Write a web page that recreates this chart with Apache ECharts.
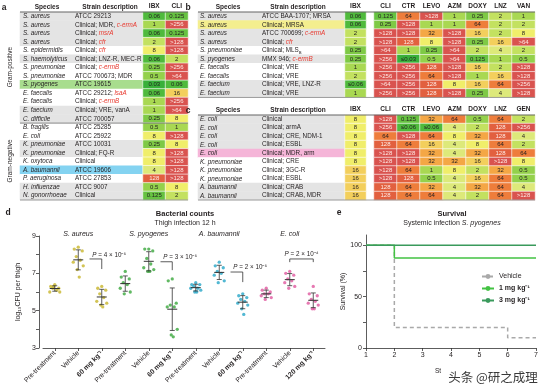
<!DOCTYPE html>
<html>
<head>
<meta charset="utf-8">
<script src="https://cdn.jsdelivr.net/npm/echarts@6.0.0/dist/echarts.min.js"></script>
<style>
html,body{margin:0;padding:0;background:#ffffff;}
#chart{width:554px;height:391px;}
</style>
</head>
<body>
<div id="chart"></div>
<script>
// ================= DATA =================
// ---- Panel a ----
const speciesA = ['S. aureus','S. aureus','S. aureus','S. aureus','S. epidermidis','S. haemolyticus','S. pneumoniae','S. pneumoniae','S. pyogenes','E. faecalis','E. faecalis','E. faecium','C. difficile','B. fragilis','E. coli','K. pneumoniae','K. pneumoniae','K. oxytoca','A. baumannii','P. aeruginosa','H. influenzae','N. gonorrhoeae'];
const strainA = ['ATCC 29213','Clinical; MDR, ','Clinical; ','Clinical; ','Clinical; ','Clinical; LNZ-R, MEC-R','Clinical; ','ATCC 700673; MDR','ATCC 19615','ATCC 29212; ','Clinical; ','Clinical; VRE, vanA','ATCC 700057','ATCC 25285','ATCC 25922','ATCC 10031','Clinical; FQ-R','Clinical','ATCC 19606','ATCC 27853','ATCC 9007','Clinical'];
const geneA = ['','c-ermA','msrA','cfr','cfr','','c-ermB','','','lsaA','c-ermB','','','','','','','','','','',''];
const rowBgA = ['g','g','g','g','w','g','w','w','G','w','w','g','g','w','w','g','g','w','B','w','g','g'];
const ibxA = ['0.06','1','0.06','2','8','0.06','0.25','0.5','0.03','0.06','1','1','0.25','0.5','8','0.25','8','8','4','128','0.5','0.125'];
const cliA = ['0.125','>256','0.125','>128','>128','2','>256','>64','0.06','16','>256','>64','8','1','>128','8','>128','>128','>128','>128','8','2'];

// ---- Panel b ----
const speciesB = ['S. aureus','S. aureus','S. aureus','S. aureus','S. pneumoniae','S. pyogenes','E. faecalis','E. faecalis','E. faecium','E. faecium'];
const strainB = ['ATCC BAA-1707; MRSA','Clinical; MRSA','ATCC 700699; ','Clinical; ','Clinical; MLS','MMX 946; ','Clinical; VRE','Clinical; VRE','Clinical; VRE, LNZ-R','Clinical; VRE'];
const subB = ['','','','','B','','','','',''];
const geneB = ['','','c-ermA','cfr','','c-ermB','','','',''];
const rowBgB = ['g','Y','g','g','w','g','w','w','g','g'];
const ibxB = ['0.06','0.06','2','2','0.25','0.25','1','2','≤0.06','1'];
const cliB = ['0.125','0.25','>128','>128','>64','>256','>256','>256','>64','>256'];
const ctrB = ['64','>128','>128','128','1','≤0.03','>256','>256','>256','>256'];
const levoB = ['>128','1','32','8','0.25','0.5','128','64','128','128'];
const azmB = ['1','1','>128','>128','>64','>64','>128','>128','8','>128'];
const doxyB = ['0.25','64','16','0.25','2','0.125','16','1','16','0.25'];
const lnzB = ['2','2','2','16','4','1','2','16','64','4'];
const vanB = ['1','2','8','>64','2','0.5','>128','>128','>256','>128'];

// ---- Panel c ----
const speciesC = ['E. coli','E. coli','E. coli','E. coli','E. coli','K. pneumoniae','K. pneumoniae','K. pneumoniae','A. baumannii','A. baumannii'];
const strainC = ['Clinical','Clinical; armA','Clinical; CRE, NDM-1','Clinical; ESBL','Clinical; MDR, arm','Clinical; CRE','Clinical; 3GC-R','Clinical; ESBL','Clinical; CRAB','Clinical; CRAB, MDR'];
const geneC = ['','','','','','','','','',''];
const rowBgC = ['g','g','g','g','P','w','w','w','g','g'];
const ibxC = ['8','8','8','8','8','8','16','16','16','16'];
const cliC = ['>128','>256','64','128','>128','>128','>128','>128','128','128'];
const ctrC = ['0.125','≤0.06','>128','64','>128','>128','64','128','64','64'];
const levoC = ['32','≤0.06','64','16','32','32','1','0.5','32','64'];
const azmC = ['64','4','8','4','4','32','8','4','4','4'];
const doxyC = ['0.5','2','32','8','32','16','2','16','32','2'];
const lnzC = ['64','128','128','64','128','>128','32','64','64','64'];
const genC = ['2','>256','4','2','64','8','0.5','0.5','4','>128'];

// ---- Panel d ----
const groupLabelsD = ['Pre-treatment','Vehicle','60 mg kg⁻¹','Pre-treatment','Vehicle','60 mg kg⁻¹','Pre-treatment','Vehicle','60 mg kg⁻¹','Pre-treatment','Vehicle','120 mg kg⁻¹'];
const speciesD = ['S. aureus','S. pyogenes','A. baumannii','E. coli'];
const saPre = [6.4, 6.3, 6.2, 6.2, 6.1, 6.0, 6.0, 6.3];
const saVeh = [8.4, 8.3, 8.2, 7.9, 7.7, 7.6, 7.4, 7.2, 6.8];
const sa60  = [6.3, 6.2, 6.1, 5.9, 5.7, 5.5, 5.4, 5.3, 5.2];
const spPre = [7.1, 6.8, 6.7, 6.5, 6.4, 6.2, 6.0, 5.9];
const spVeh = [8.3, 8.3, 8.2, 7.8, 7.5, 7.3, 7.2, 7.1, 7.1];
const sp60  = [6.7, 6.6, 5.4, 5.3, 5.2, 5.2, 4.0, 3.7, 3.6];
const abPre = [6.5, 6.4, 6.4, 6.3, 6.2, 6.2, 6.1, 6.0, 6.0];
const abVeh = [7.6, 7.4, 7.3, 7.1, 7.0, 6.9, 6.6, 6.5];
const ab60  = [5.9, 5.8, 5.7, 5.6, 5.5, 5.4, 5.3, 5.1, 4.8];
const ecPre = [6.2, 6.1, 6.0, 5.9, 5.9, 5.8, 5.7, 5.6];
const ecVeh = [7.1, 7.0, 6.9, 6.7, 6.6, 6.5, 6.3, 6.2];
const ec120 = [6.3, 5.9, 5.8, 5.6, 5.5, 5.4, 5.3, 5.1, 5.1];
const pValues = ['4 × 10⁻⁶','3 × 10⁻⁶','2 × 10⁻⁶','2 × 10⁻⁴'];
const yTicksD = [3,4,5,6,7,8,9];
const yLabelsD = [3,5,7,9];

// ---- Panel e ----
const daysVehicle = [1, 2, 6, 7];
const survVehicle = [100, 20, 10, 10];
const days1mg = [1, 2, 7];
const surv1mg = [100, 87.5, 87.5];
const days3mg = [1, 7];
const surv3mg = [100, 100];
const yTicksE = [0,25,50,75,100];
const yLabelsE = [0,50,100];
const xTicksE = [1,2,3,4,5,6,7];

// ================= STYLE / BUILD =================
const FONT = '"Liberation Sans", Arial, Helvetica, sans-serif';
const TXT = '#231f20';
const ROW_BG = {g:'#e4e4e4', w:'#ffffff', G:'#a8dd8e', Y:'#f4ee8e', B:'#84d3f1', P:'#f5b5d8'};
const HEAT = ['#38b03a','#4fba3c','#66c241','#7ec945','#94d14b','#a9d852','#c3e160','#dde97a','#f0ee6a','#f3cf5c','#f4a745','#ee7d3b','#e2603f','#d9534f'];
const MIC_STEPS = ['0.03','0.06','0.125','0.25','0.5','1','2','4','8','16','32','64','128'];
function micLevel(s){ if (s.charAt(0) === '>') return 13; return MIC_STEPS.indexOf(s.replace('≤','')); }

const grid = [], xAxis = [], yAxis = [], series = [], heatSeries = [], graphics = [];

function T(x, y, text, style, rot){
  graphics.push({type:'text', x:x, y:y, z:100, rotation: rot || 0, silent:true,
    style: Object.assign({text:text, fontSize:6.8, fontFamily:FONT, fill:TXT, align:'center', verticalAlign:'middle'}, style || {})});
}
function L(x1, y1, x2, y2, w, col){
  graphics.push({type:'line', z:100, silent:true, shape:{x1:x1,y1:y1,x2:x2,y2:y2}, style:{stroke: col || '#555', lineWidth: w || 0.7}});
}

function table(t){
  const n = t.species.length;
  const rows = t.species.map((_, i) => String(i));
  let gi = grid.length;
  grid.push({left:t.bgLeft, top:t.top, width:t.bgWidth, height:t.rowH*n, outerBoundsMode:'none'});
  xAxis.push({gridIndex:gi, type:'category', data:['row'], show:false});
  yAxis.push({gridIndex:gi, type:'category', data:rows, inverse:true, z:10,
    axisLine:{show:false}, axisTick:{show:false}, splitLine:{show:false},
    axisLabel:{show:true, inside:true, align:'left', margin:t.margin, interval:0, fontSize:6.3, fontFamily:FONT, color:TXT,
      formatter: function(v){
        const i = +v;
        let s = '{sp|' + t.species[i] + '}{st|' + t.strain[i] + '}';
        if (t.sub && t.sub[i]) s += '{sb|' + t.sub[i] + '}';
        if (t.gene[i]) s += '{rd|' + t.gene[i] + '}';
        return s;
      },
      rich:{
        sp:{fontStyle:'italic', width:t.spW, fontSize:6.3, fontFamily:FONT, color:TXT, lineHeight:8},
        st:{fontSize:6.3, fontFamily:FONT, color:TXT, lineHeight:8},
        rd:{fontSize:6.3, fontFamily:FONT, color:'#e8392f', fontStyle:'italic', lineHeight:8},
        sb:{fontSize:4.3, fontFamily:FONT, color:TXT, verticalAlign:'bottom', lineHeight:8}
      }}});
  series.push({type:'heatmap', xAxisIndex:gi, yAxisIndex:gi, silent:true, z:1,
    data: t.bg.map((c, r) => ({value:[0, r, 0], itemStyle:{color: ROW_BG[c]}}))});
  t.blocks.forEach(b => {
    gi = grid.length;
    grid.push({left:b.left, top:t.top, width:b.width, height:t.rowH*n, outerBoundsMode:'none'});
    xAxis.push({gridIndex:gi, type:'category', position:'top', data:b.cols.map(c => c.name),
      axisLine:{show:false}, axisTick:{show:false}, splitLine:{show:false},
      axisLabel:{interval:0, margin:2.5, fontSize:6.5, fontWeight:'bold', fontFamily:FONT, color:TXT}});
    yAxis.push({gridIndex:gi, type:'category', data:rows, inverse:true, show:false});
    const data = [];
    b.cols.forEach((c, ci) => c.vals.forEach((s, r) => {
      const lv = micLevel(s);
      data.push({name:s, value:[ci, r, lv], label:{color: lv >= 12 ? '#fde9e4' : TXT}});
    }));
    heatSeries.push(series.length);
    series.push({type:'heatmap', xAxisIndex:gi, yAxisIndex:gi, silent:true, z:2, data:data,
      itemStyle:{borderColor:'#ffffff', borderWidth:0.6},
      label:{show:true, formatter:'{b}', fontSize:6, fontFamily:FONT}});
  });
  const right = t.blocks[t.blocks.length-1].left + t.blocks[t.blocks.length-1].width;
  L(t.bgLeft, t.top, right, t.top, 0.8, '#444');
  L(t.bgLeft, t.top + t.rowH*n, right, t.top + t.rowH*n, 0.8, '#888');
  if (t.sep) L(t.bgLeft, t.top + t.rowH*t.sep, right, t.top + t.rowH*t.sep, 0.8, '#666');
}

// Panel a
table({bgLeft:20, bgWidth:123, top:12, rowH:8.545, margin:3, spW:52, sep:13,
  species:speciesA, strain:strainA, gene:geneA, bg:rowBgA,
  blocks:[{left:143, width:45, cols:[{name:'IBX', vals:ibxA},{name:'CLI', vals:cliA}]}]});
// Panel b
table({bgLeft:198, bgWidth:147, top:12, rowH:8.545, margin:2, spW:62,
  species:speciesB, strain:strainB, sub:subB, gene:geneB, bg:rowBgB,
  blocks:[{left:345, width:21, cols:[{name:'IBX', vals:ibxB}]},
          {left:374, width:161, cols:[{name:'CLI',vals:cliB},{name:'CTR',vals:ctrB},{name:'LEVO',vals:levoB},{name:'AZM',vals:azmB},{name:'DOXY',vals:doxyB},{name:'LNZ',vals:lnzB},{name:'VAN',vals:vanB}]}]});
// Panel c
table({bgLeft:198, bgWidth:147, top:115, rowH:8.5, margin:2, spW:62,
  species:speciesC, strain:strainC, gene:geneC, bg:rowBgC,
  blocks:[{left:345, width:21, cols:[{name:'IBX', vals:ibxC}]},
          {left:374, width:161, cols:[{name:'CLI',vals:cliC},{name:'CTR',vals:ctrC},{name:'LEVO',vals:levoC},{name:'AZM',vals:azmC},{name:'DOXY',vals:doxyC},{name:'LNZ',vals:lnzC},{name:'GEN',vals:genC}]}]});

// Table headers and panel labels
const B8 = {fontSize:8.5, fontWeight:'bold', fontFamily:'"Liberation Sans", Arial, sans-serif'};
const HB = {fontSize:6.5, fontWeight:'bold'};
T(4, 8, 'a', B8); T(188, 8, 'b', B8); T(188, 111, 'c', B8); T(8, 213, 'd', B8); T(339, 213, 'e', B8);
T(47, 7.5, 'Species', HB); T(110, 7.5, 'Strain description', HB);
T(228, 7.5, 'Species', HB); T(298, 7.5, 'Strain description', HB);
T(228, 110.5, 'Species', HB); T(298, 110.5, 'Strain description', HB);
T(10, 67, 'Gram-positive', {fontSize:6.5}, Math.PI/2);
T(10, 161, 'Gram-negative', {fontSize:6.5}, Math.PI/2);

// ---------------- Panel d ----------------
const AX = {color:'#333', width:0.8};
const gD = grid.length;
grid.push({left:43, right:229, top:236, bottom:43, outerBoundsMode:'none'});
const xD = xAxis.length;
xAxis.push({gridIndex:gD, type:'category', data:groupLabelsD.map((_, i) => String(i)), boundaryGap:true,
  axisLine:{show:true, lineStyle:AX}, axisTick:{show:true, alignWithLabel:true, length:3, lineStyle:AX},
  axisLabel:{interval:0, rotate:45, margin:4, fontSize:6.8, fontFamily:FONT, color:TXT,
    formatter: v => { const s = groupLabelsD[+v]; return s.indexOf('mg') >= 0 ? '{b|' + s + '}' : s; },
    rich:{b:{fontWeight:'bold', fontSize:6.8, fontFamily:FONT, color:TXT}}}});
xAxis.push({gridIndex:gD, type:'category', position:'top', data:speciesD,
  axisLine:{show:false}, axisTick:{show:false},
  axisLabel:{interval:0, margin:-2, fontSize:7, fontStyle:'italic', fontFamily:FONT, color:TXT}});
const yD = yAxis.length;
yAxis.push({gridIndex:gD, type:'value', min:3, max:9, interval:1, offset:4,
  name:'log₁₀CFU per thigh', nameLocation:'middle', nameGap:17,
  nameTextStyle:{fontSize:7, fontFamily:FONT, color:TXT},
  axisLine:{show:true, lineStyle:AX}, axisTick:{show:true, length:3, lineStyle:AX, customValues:yTicksD},
  axisLabel:{customValues:yLabelsD, margin:3, fontSize:7, fontFamily:FONT, color:TXT}, splitLine:{show:false}});

const groupsD = [saPre, saVeh, sa60, spPre, spVeh, sp60, abPre, abVeh, ab60, ecPre, ecVeh, ec120];
const colorsD = ['#c8b52b','#3aa73c','#27a6c8','#e0579f'];
const jitter = [0,-4,4,-2,2,-5,5,-1,1];
for (let s = 0; s < 4; s++) {
  const data = [];
  for (let k = 0; k < 3; k++) {
    const gi = 3*s + k;
    groupsD[gi].forEach((v, j) => data.push({value:[gi, v], symbolOffset:[jitter[j % jitter.length], 0]}));
  }
  series.push({type:'scatter', xAxisIndex:xD, yAxisIndex:yD, data:data, symbolSize:3.3, z:3,
    itemStyle:{color:colorsD[s]}, silent:true});
}
const statsD = groupsD.map((arr, i) => {
  const m = arr.reduce((a, v) => a + v, 0) / arr.length;
  const sd = Math.sqrt(arr.reduce((a, v) => a + (v - m)*(v - m), 0) / (arr.length - 1));
  return [i, m, sd];
});
series.push({type:'custom', xAxisIndex:xD, yAxisIndex:yD, data:statsD, z:4, silent:true,
  renderItem:(p, api) => {
    const x = api.value(0), m = api.value(1), sd = api.value(2);
    const c = api.coord([x, m]), tp = api.coord([x, m + sd]), bt = api.coord([x, m - sd]);
    const st = {stroke:'#333', lineWidth:0.8};
    return {type:'group', children:[
      {type:'line', shape:{x1:c[0]-5, y1:c[1], x2:c[0]+5, y2:c[1]}, style:{stroke:'#333', lineWidth:1}},
      {type:'line', shape:{x1:c[0], y1:tp[1], x2:c[0], y2:bt[1]}, style:st},
      {type:'line', shape:{x1:c[0]-2.5, y1:tp[1], x2:c[0]+2.5, y2:tp[1]}, style:st},
      {type:'line', shape:{x1:c[0]-2.5, y1:bt[1], x2:c[0]+2.5, y2:bt[1]}, style:st}
    ]};
  }});
// P-value brackets (annotation geometry)
const brackets = [
  {a:1, b:2, f:0.48, y:7.77, drop:7.23, ty:7.98, tf:0.6, kind:'hook'},
  {a:4, b:5, f:0.5, y:7.62, drop:7.17, ty:7.87, tf:0.62, kind:'hook'},
  {a:7, b:8, f:0.48, y:7.07, drop:6.53, ty:7.34, tf:0.6, kind:'hook'},
  {a:10, b:11, f:0, y:7.77, drop:7.6, ty:8.03, tf:0.5, kind:'bar'}
];
series.push({type:'custom', xAxisIndex:xD, yAxisIndex:yD, z:5, silent:true,
  data: brackets.map(b => [b.b, b.y]),
  renderItem:(p, api) => {
    const b = brackets[p.dataIndex];
    const A = api.coord([b.a, b.y]), Bp = api.coord([b.b, b.y]), D = api.coord([b.b, b.drop]), Tt = api.coord([b.a, b.ty]);
    const st = {stroke:'#333', lineWidth:0.8};
    const x0 = A[0] + (Bp[0] - A[0]) * b.f;
    const tx = A[0] + (Bp[0] - A[0]) * b.tf;
    const ch = [];
    if (b.kind === 'hook') {
      ch.push({type:'line', shape:{x1:x0, y1:A[1], x2:Bp[0], y2:A[1]}, style:st});
      ch.push({type:'line', shape:{x1:Bp[0], y1:A[1], x2:Bp[0], y2:D[1]}, style:st});
    } else {
      ch.push({type:'line', shape:{x1:A[0], y1:A[1], x2:Bp[0], y2:A[1]}, style:st});
      ch.push({type:'line', shape:{x1:A[0], y1:A[1], x2:A[0], y2:D[1]}, style:st});
      ch.push({type:'line', shape:{x1:Bp[0], y1:A[1], x2:Bp[0], y2:D[1]}, style:st});
    }
    ch.push({type:'text', x:tx, y:Tt[1], style:{text:'{i|P} = ' + pValues[p.dataIndex], fontSize:6.3, fontFamily:FONT, fill:TXT,
      align: b.kind === 'hook' ? 'left' : 'center', verticalAlign:'middle',
      rich:{i:{fontStyle:'italic', fontSize:6.3, fontFamily:FONT, fill:TXT}}}});
    return {type:'group', children:ch};
  }});
T(185, 214, 'Bacterial counts', {fontSize:7.5, fontWeight:'bold'});
T(185, 223, 'Thigh infection 12 h', {fontSize:7});

// ---------------- Panel e ----------------
const gE = grid.length;
grid.push({left:366, right:18, top:235, bottom:43, outerBoundsMode:'none'});
const xE = xAxis.length;
xAxis.push({gridIndex:gE, type:'value', min:1, max:7, interval:1,
  axisLine:{show:true, lineStyle:AX}, axisTick:{show:true, length:3, lineStyle:AX, customValues:xTicksE},
  axisLabel:{customValues:xTicksE, margin:4, fontSize:7, fontFamily:FONT, color:TXT}, splitLine:{show:false}});
const yE = yAxis.length;
yAxis.push({gridIndex:gE, type:'value', min:0, max:110,
  name:'Survival (%)', nameLocation:'middle', nameGap:16, nameTextStyle:{fontSize:7, fontFamily:FONT, color:TXT},
  axisLine:{show:true, lineStyle:AX}, axisTick:{show:true, length:3, lineStyle:AX, customValues:yTicksE},
  axisLabel:{customValues:yLabelsE, margin:4, fontSize:7, fontFamily:FONT, color:TXT}, splitLine:{show:false}});
const zipE = (d, s) => d.map((x, i) => [x, s[i]]);
series.push({type:'line', name:'Vehicle', xAxisIndex:xE, yAxisIndex:yE, step:'end', symbol:'none', z:3,
  data:zipE(daysVehicle, survVehicle), lineStyle:{color:'#a9a9a9', width:1.5, type:[4,3]}, itemStyle:{color:'#a9a9a9'}});
series.push({type:'line', name:'1 mg kg⁻¹', xAxisIndex:xE, yAxisIndex:yE, step:'end', symbol:'none', z:4,
  data:zipE(days1mg, surv1mg), lineStyle:{color:'#43c243', width:1.5}, itemStyle:{color:'#43c243'}});
series.push({type:'line', name:'3 mg kg⁻¹', xAxisIndex:xE, yAxisIndex:yE, step:'end', symbol:'none', z:5,
  data:zipE(days3mg, surv3mg), lineStyle:{color:'#3a9a5c', width:1.5}, itemStyle:{color:'#3a9a5c'}});
T(452, 214, 'Survival', {fontSize:7.5, fontWeight:'bold'});
T(452, 223.5, 'Systemic infection {i|S. pyogenes}', {fontSize:7, rich:{i:{fontStyle:'italic', fontSize:7, fontFamily:FONT, fill:TXT}}});
T(438, 371, 'St', {fontSize:6.5, align:'center'});
T(493, 377, '头条 @研之成理', {fontSize:12.5, fontFamily:'"Noto Sans CJK SC", sans-serif', fill:'#3a3a3a', stroke:'#ffffff', lineWidth:2.5});

// ================= CHART =================
const chart = echarts.init(document.getElementById('chart'), null, {renderer:'canvas'});
chart.setOption({
  animation:false,
  backgroundColor:'#ffffff',
  textStyle:{fontFamily:FONT},
  grid:grid, xAxis:xAxis, yAxis:yAxis,
  visualMap:{type:'piecewise', show:false, dimension:2, seriesIndex:heatSeries,
    pieces: HEAT.map((c, i) => ({value:i, color:c}))},
  legend:{left:481, top:273, orient:'vertical', itemWidth:12, itemHeight:6, itemGap:5, padding:0,
    data:['Vehicle','1 mg kg⁻¹','3 mg kg⁻¹'],
    formatter: n => n === 'Vehicle' ? n : '{b|' + n + '}',
    textStyle:{fontSize:7, fontFamily:FONT, color:TXT, rich:{b:{fontWeight:'bold', fontSize:7, fontFamily:FONT, color:TXT}}}},
  graphic:{elements:graphics},
  series:series
});
</script>
</body>
</html>
